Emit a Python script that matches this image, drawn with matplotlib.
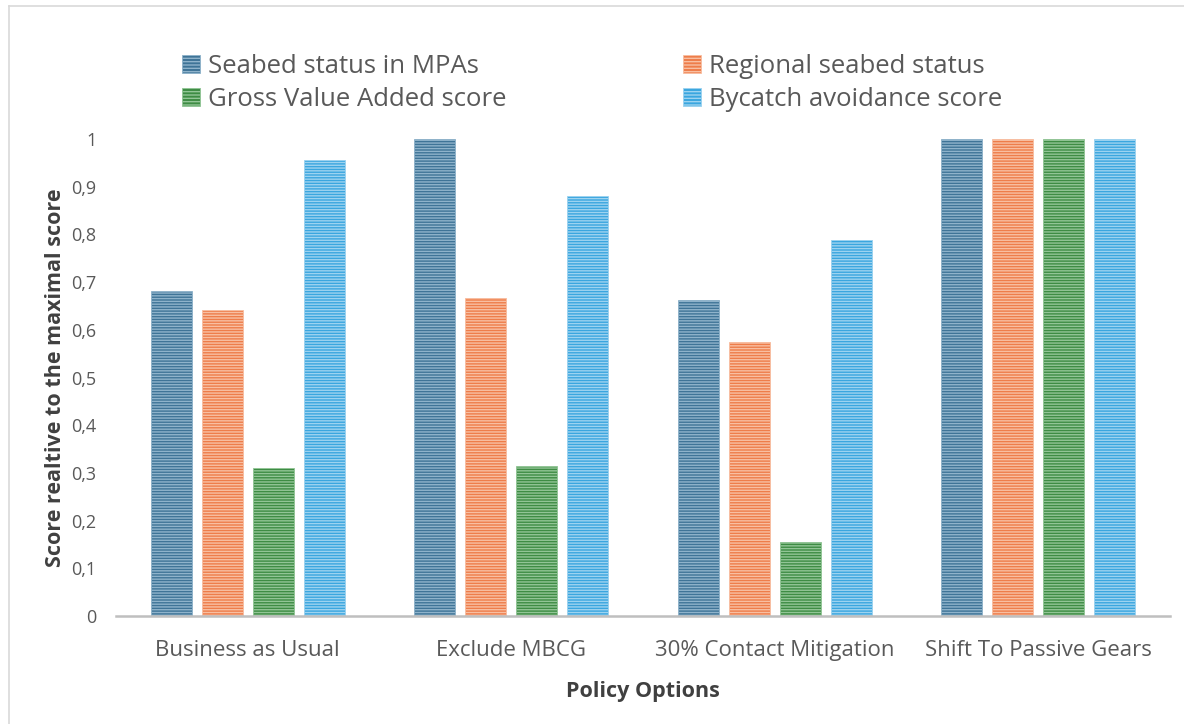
import matplotlib
matplotlib.use("Agg")
import matplotlib.pyplot as plt
import numpy as np
from matplotlib.patches import Patch
from matplotlib.lines import Line2D

categories = ["Business as Usual", "Exclude MBCG", "30% Contact Mitigation", "Shift To Passive Gears"]
series_names = ["Seabed status in MPAs", "Regional seabed status", "Gross Value Added score", "Bycatch avoidance score"]
seabed_mpa = [0.681, 1.0, 0.662, 1.0]
regional_seabed = [0.641, 0.667, 0.574, 1.0]
gva_score = [0.310, 0.314, 0.155, 1.0]
bycatch_score = [0.956, 0.880, 0.788, 1.0]
yticks = [0, 0.1, 0.2, 0.3, 0.4, 0.5, 0.6, 0.7, 0.8, 0.9, 1.0]
ytick_labels = ["0", "0,1", "0,2", "0,3", "0,4", "0,5", "0,6", "0,7", "0,8", "0,9", "1"]

series = [seabed_mpa, regional_seabed, gva_score, bycatch_score]
face_colors = ["#3f7497", "#ee7d4a", "#3e8c44", "#3aa6df"]
hatch_colors = ["#8fb3cb", "#f8bfa2", "#92c596", "#9dd3f0"]

plt.rcParams['font.family'] = ['Open Sans', 'DejaVu Sans']
plt.rcParams['hatch.linewidth'] = 1.0

fig = plt.figure(figsize=(11.84, 7.24), dpi=100)
ax = fig.add_axes([116/1184, 1 - 616/724, (1170-116)/1184, (616-139)/724])

x = np.arange(len(categories))
width = 0.156
step = 0.194
for i, vals in enumerate(series):
    ax.bar(x + (i - 1.5) * step, vals, width, color=face_colors[i],
           edgecolor=hatch_colors[i], linewidth=0.6, hatch='------',
           label=series_names[i], clip_on=False)

ax.set_xlim(-0.5, 3.5)
ax.set_ylim(0, 1.0)
ax.set_yticks(yticks)
ax.set_yticklabels(ytick_labels)
ax.set_xticks(x)
ax.set_xticklabels(categories)
for s in ['top', 'right', 'left']:
    ax.spines[s].set_visible(False)
ax.spines['bottom'].set_color('#bfbfbf')
ax.spines['bottom'].set_linewidth(1.8)
ax.tick_params(axis='both', length=0, colors='#595959')
ax.tick_params(axis='x', labelsize=16, pad=17)
ax.tick_params(axis='y', labelsize=13, pad=14)

ax.set_ylabel("Score realtive to the maximal score", fontsize=15.5, fontweight='bold',
              color='#404040', labelpad=4)
ax.set_xlabel("Policy Options", fontsize=15.5, fontweight='bold', color='#404040', labelpad=15)

handles = [Patch(facecolor=face_colors[i], edgecolor=hatch_colors[i], hatch='-----', linewidth=0.6)
           for i in range(4)]
order = [0, 2, 1, 3]
fig.legend([handles[i] for i in order], [series_names[i] for i in order],
           loc='upper left', bbox_to_anchor=(172/1184, 1 - 44/724),
           ncol=2, frameon=False, fontsize=18.5, labelcolor='#595959',
           handlelength=0.7, handleheight=0.7, handletextpad=0.32,
           columnspacing=6.85, labelspacing=0.3, borderaxespad=0)

# outer chart frame
fig.add_artist(Line2D([9/1184, 9/1184], [0, 1 - 6/724], transform=fig.transFigure, color='#d9d9d9', lw=1.2))
fig.add_artist(Line2D([9/1184, 1], [1 - 6/724, 1 - 6/724], transform=fig.transFigure, color='#d9d9d9', lw=1.2))

fig.savefig("out.png", dpi=100, facecolor='white')
